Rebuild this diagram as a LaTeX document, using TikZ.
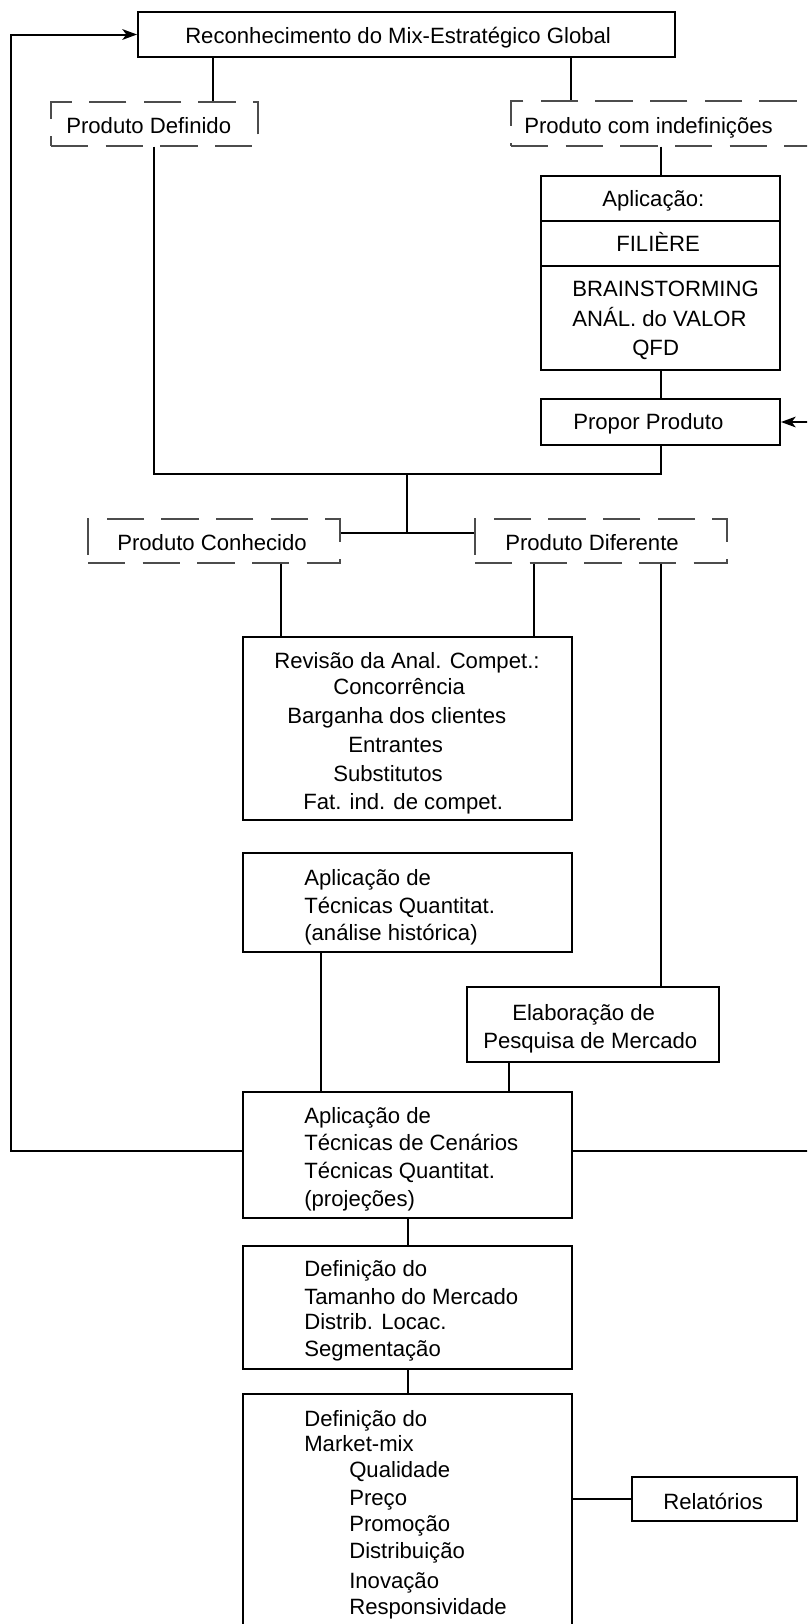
\documentclass[tikz,border=0pt]{standalone}
\usepackage{fontspec}
\setmainfont{Liberation Sans}
\usetikzlibrary{arrows.meta,fit}
\begin{document}
\begin{tikzpicture}[x=0.75pt,y=-0.75pt,
  box/.style={draw, line width=1.5pt, inner sep=0pt},
  dbox/.style={draw=black!70, line width=0.9pt, dash pattern=on 28pt off 13pt, inner sep=0pt},
  txt/.style={anchor=base west, inner sep=0pt, font=\fontsize{16.6pt}{19pt}\selectfont},
  link/.style={line width=1.5pt},
  fb/.style={line width=1.5pt, -{Stealth[length=11pt,width=8pt,inset=3pt]}},
]
\useasboundingbox (0,0) rectangle (807,1624);
\clip (0,0) rectangle (807,1624);
\fill[white] (0,0) rectangle (807,1624);

% boxes
\node[box,  fit={(138,12)(675,57)}]    (T)   {};
\node[dbox, fit={(51,102)(258,146)}]   (PD)  {};
\node[dbox, fit={(511,101)(850,146)}]  (PCI) {};
\node[box,  fit={(541,176)(780,370)}]  (AP)  {};
\node[box,  fit={(541,399)(780,445)}]  (PP)  {};
\node[dbox, fit={(88,519)(340,563)}]   (PC)  {};
\node[dbox, fit={(475,519)(727,563)}]  (PDF) {};
\node[box,  fit={(243,637)(572,820)}]  (RV)  {};
\node[box,  fit={(243,853)(572,952)}]  (AQ)  {};
\node[box,  fit={(467,987)(719,1062)}] (EL)  {};
\node[box,  fit={(243,1092)(572,1218)}] (CN) {};
\node[box,  fit={(243,1246)(572,1369)}] (DF) {};
\node[box,  fit={(243,1394)(572,1690)}] (MM) {};
\node[box,  fit={(632,1477)(797,1521)}] (RL) {};

% compartments of the application box
\coordinate (d1) at (0,221);
\coordinate (d2) at (0,266);
\draw[link] (AP.west |- d1) -- (AP.east |- d1);
\draw[link] (AP.west |- d2) -- (AP.east |- d2);

% texts
\node[txt] (tT)   at (185,43.5) {Reconhecimento do Mix-Estratégico Global};
\node[txt] (tPD)  at (66,133)   {Produto Definido};
\node[txt] (tPCI) at (524,133)  {Produto com indefinições};
\node[txt] (tAP1) at (602,206)  {Aplicação:};
\node[txt] (tAP2) at (616,251)  {FILIÈRE};
\node[txt] (tAP3) at (572,296)  {BRAINSTORMING};
\node[txt] (tAP4) at (572,326)  {ANÁL. do VALOR};
\node[txt] (tAP5) at (632,355)  {QFD};
\node[txt] (tPP)  at (573,429)  {Propor Produto};
\node[txt] (tPC)  at (117,550)  {Produto Conhecido};
\node[txt] (tPDF) at (505,550)  {Produto Diferente};
\node[txt] (tRV1) at (274,668)  {Revisão da Anal. Compet.:};
\node[txt] (tRV2) at (333,694)  {Concorrência};
\node[txt] (tRV3) at (287,723)  {Barganha dos clientes};
\node[txt] (tRV4) at (348,752)  {Entrantes};
\node[txt] (tRV5) at (333,781)  {Substitutos};
\node[txt] (tRV6) at (303,809)  {Fat. ind. de compet.};
\node[txt] (tAQ1) at (304,885)  {Aplicação de};
\node[txt] (tAQ2) at (304,913)  {Técnicas Quantitat.};
\node[txt] (tAQ3) at (304,940)  {(análise histórica)};
\node[txt] (tEL1) at (512,1020) {Elaboração de};
\node[txt] (tEL2) at (483,1048) {Pesquisa de Mercado};
\node[txt] (tCN1) at (304,1123) {Aplicação de};
\node[txt] (tCN2) at (304,1150) {Técnicas de Cenários};
\node[txt] (tCN3) at (304,1178) {Técnicas Quantitat.};
\node[txt] (tCN4) at (304,1206) {(projeções)};
\node[txt] (tDF1) at (304,1276) {Definição do};
\node[txt] (tDF2) at (304,1304) {Tamanho do Mercado};
\node[txt] (tDF3) at (304,1329) {Distrib. Locac.};
\node[txt] (tDF4) at (304,1356) {Segmentação};
\node[txt] (tMM1) at (304,1426) {Definição do};
\node[txt] (tMM2) at (304,1451) {Market-mix};
\node[txt] (tMM3) at (349,1477) {Qualidade};
\node[txt] (tMM4) at (349,1505) {Preço};
\node[txt] (tMM5) at (349,1531) {Promoção};
\node[txt] (tMM6) at (349,1558) {Distribuição};
\node[txt] (tMM7) at (349,1588) {Inovação};
\node[txt] (tMM8) at (349,1614) {Responsividade};
\node[txt] (tRL)  at (663,1509) {Relatórios};

% connector columns and junctions
\coordinate (kTa) at (213,0);
\coordinate (kTb) at (571,0);
\coordinate (kPD) at (154,0);
\coordinate (jn)  at (407,474);
\coordinate (jm)  at (407,533);
\coordinate (kPC) at (281,0);
\coordinate (kDa) at (534,0);
\coordinate (kDb) at (661,0);
\coordinate (kAQ) at (321,0);
\coordinate (kEL) at (509,0);
\coordinate (fbL) at (11,1151);
\coordinate (fbR) at (840,1151);

% connectors
\draw[link] (T.south -| kTa) -- (PD.north -| kTa);
\draw[link] (T.south -| kTb) -- (PCI.north -| kTb);
\draw[link] (PCI.south -| AP.north) -- (AP.north);
\draw[link] (AP.south) -- (PP.north);
\draw[link] (PD.south -| kPD) |- (PP.south |- jn) -- (PP.south);
\draw[link] (jn) -- (jm);
\draw[link] (PC.east |- jm) -- (PDF.west |- jm);
\draw[link] (PC.south -| kPC) -- (RV.north -| kPC);
\draw[link] (PDF.south -| kDa) -- (RV.north -| kDa);
\draw[link] (PDF.south -| kDb) -- (EL.north -| kDb);
\draw[link] (AQ.south -| kAQ) -- (CN.north -| kAQ);
\draw[link] (EL.south -| kEL) -- (CN.north -| kEL);
\draw[link] (CN.south) -- (DF.north);
\draw[link] (DF.south) -- (MM.north);
\draw[link] (MM.east |- RL.west) -- (RL.west);

% feedback loops
\draw[fb] (CN.west |- fbL) -- (fbL) |- (T.west);
\draw[fb] (CN.east |- fbR) -- (fbR) |- (PP.east);
\end{tikzpicture}
\end{document}
